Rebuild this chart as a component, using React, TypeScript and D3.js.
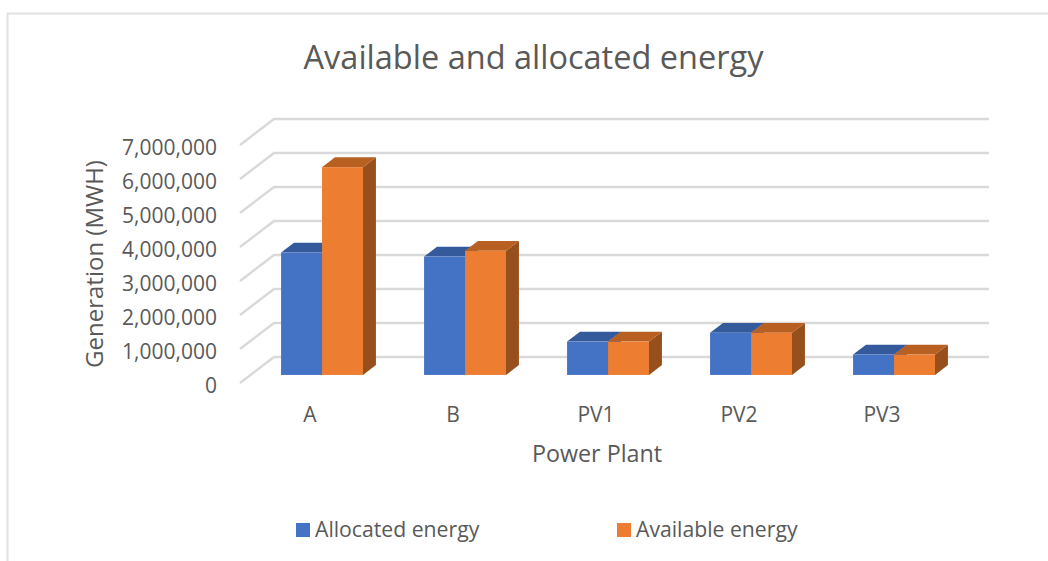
// App.tsx
import React from 'react';
import * as d3 from 'd3';

const categories = ['A', 'B', 'PV1', 'PV2', 'PV3'];
const allocated = [3600000, 3480000, 980000, 1240000, 600000];
const available = [6110000, 3650000, 980000, 1240000, 600000];
const yTicks = [0, 1000000, 2000000, 3000000, 4000000, 5000000, 6000000, 7000000];
const seriesNames = ['Allocated energy', 'Available energy'];

const textColor = '#595959';
const gridColor = '#d9d9d9';
const frontColors = ['#4472c4', '#ed7d31'];
const topColors = ['#355a9c', '#b85f22'];
const sideColor = ['#2f5597', '#974f1c'];

const font = '"Open Sans", sans-serif';

const App: React.FC = () => {
    // Front edge of the floor, the back wall sits up and to the right of it
    const x = d3.scaleBand<string>().domain(categories).range([240, 955]);
    const y = d3.scaleLinear().domain([0, 7000000]).range([383, 145]);

    // Fake 3D: depth 0 is the front of the floor, 1 is the back wall
    const depthX = d3.scaleLinear().domain([0, 1]).range([0, 34]);
    const depthY = d3.scaleLinear().domain([0, 1]).range([0, -26]);
    const barFront = 0.31;
    const barBack = 0.69;

    const groupWidth = x.bandwidth() * 0.573;
    const inner = d3
        .scaleBand<number>()
        .domain([0, 1])
        .range([0, groupWidth]);

    const formatTick = d3.format(',');

    const renderBar = (cat: string, value: number, s: number) => {
        const left =
            x(cat)! +
            (x.bandwidth() - groupWidth) / 2 +
            inner(s)! +
            depthX(barFront);
        const right = left + inner.bandwidth();
        const base = y(0) + depthY(barFront);
        const top = y(value) + depthY(barFront);
        const dx = depthX(barBack) - depthX(barFront);
        const dy = depthY(barBack) - depthY(barFront);
        const topPath = d3.path();
        topPath.moveTo(left, top);
        topPath.lineTo(left + dx, top + dy);
        topPath.lineTo(right + dx, top + dy);
        topPath.lineTo(right, top);
        topPath.closePath();
        const sidePath = d3.path();
        sidePath.moveTo(right, top);
        sidePath.lineTo(right + dx, top + dy);
        sidePath.lineTo(right + dx, base + dy);
        sidePath.lineTo(right, base);
        sidePath.closePath();
        return (
            <g key={`${cat}-${s}`}>
                <path d={sidePath.toString()} fill={sideColor[s]} />
                <path d={topPath.toString()} fill={topColors[s]} />
                <rect
                    x={left}
                    y={top}
                    width={inner.bandwidth()}
                    height={base - top}
                    fill={frontColors[s]}
                />
            </g>
        );
    };

    return (
        <svg
            width={1048}
            height={561}
            style={{ position: 'absolute', left: 0, top: 0, background: '#fff' }}
            fontFamily={font}
        >
            {/* chart frame, cropped on the right and the bottom */}
            <path
                d="M7.5,561V13.5H1048"
                fill="none"
                stroke="#e2e2e2"
                strokeWidth={2}
            />

            <text
                x={533.5}
                y={69}
                textAnchor="middle"
                fontSize={32.5}
                fill={textColor}
            >
                Available and allocated energy
            </text>

            {/* grid on the side and back walls */}
            {yTicks.map((t) => (
                <path
                    key={t}
                    d={`M${x.range()[0]},${y(t)}L${x.range()[0] + depthX(1)},${y(t) + depthY(1)}H${x.range()[1] + depthX(1)}`}
                    fill="none"
                    stroke={gridColor}
                    strokeWidth={2.5}
                />
            ))}

            {yTicks.map((t) => (
                <text
                    key={t}
                    x={217}
                    y={y(t) + 9.5}
                    textAnchor="end"
                    fontSize={21}
                    fill={textColor}
                >
                    {formatTick(t)}
                </text>
            ))}

            {categories.map((c, i) => (
                <g key={c}>
                    {renderBar(c, allocated[i], 0)}
                    {renderBar(c, available[i], 1)}
                </g>
            ))}

            {categories.map((c) => (
                <text
                    key={c}
                    x={x(c)! + 70}
                    y={422}
                    textAnchor="middle"
                    fontSize={21}
                    fill={textColor}
                >
                    {c}
                </text>
            ))}

            <text
                x={597}
                y={462}
                textAnchor="middle"
                fontSize={23.3}
                fill={textColor}
            >
                Power Plant
            </text>
            <text
                transform="translate(103,264) rotate(-90)"
                textAnchor="middle"
                fontSize={24}
                fill={textColor}
            >
                Generation (MWH)
            </text>

            {seriesNames.map((name, i) => (
                <g key={name} transform={`translate(${i === 0 ? 296 : 617},523)`}>
                    <rect width={14} height={14} fill={frontColors[i]} />
                    <text x={19} y={14} fontSize={21.2} fill={textColor}>
                        {name}
                    </text>
                </g>
            ))}
        </svg>
    );
};

export default App;
